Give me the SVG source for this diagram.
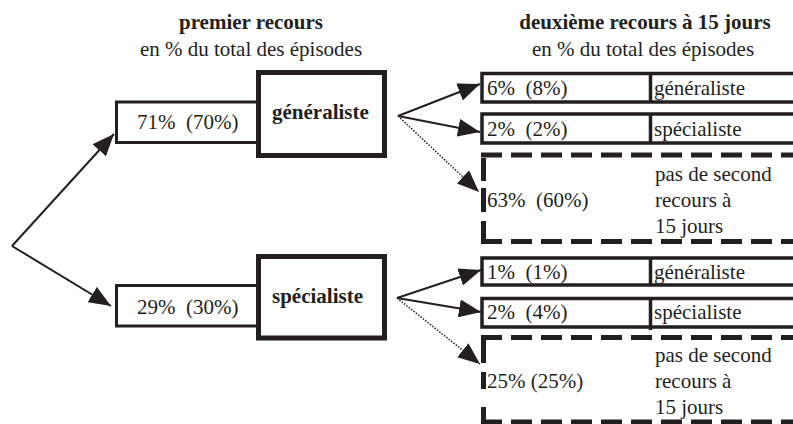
<svg xmlns="http://www.w3.org/2000/svg" width="793" height="424" viewBox="0 0 793 424" font-family="'Liberation Serif', 'Times New Roman', serif">
<style>
text{font-size:21px;fill:#231f20;white-space:pre}
.b{font-weight:bold}
.mid{text-anchor:middle}
.thick{fill:#fff;stroke:#231f20;stroke-width:5}
.thin{fill:#fff;stroke:#231f20;stroke-width:3}
.box{fill:#fff;stroke:#231f20;stroke-width:3.5}
.div{stroke:#231f20;stroke-width:3.5}
.dash{stroke:#231f20;stroke-width:5;fill:none;stroke-dasharray:21 9}
.vd{stroke:#231f20;stroke-width:5;fill:none}
.arr{stroke:#231f20;stroke-width:2;fill:none;marker-end:url(#ah)}
.dot{stroke:#231f20;stroke-width:1.5;fill:none;stroke-dasharray:1.5 1.5;marker-end:url(#ah)}
</style>
<defs>
<marker id="ah" markerUnits="userSpaceOnUse" markerWidth="22" markerHeight="18" refX="22" refY="9" orient="auto">
<path d="M0,0 L22,9 L0,18 z" fill="#231f20"/>
</marker>
</defs>
<rect width="793" height="424" fill="#fff"/>

<g id="headers">
<text class="b mid" x="251" y="29">premier recours</text>
<text class="mid" x="251" y="56">en % du total des épisodes</text>
<text class="b mid" x="645" y="29">deuxième recours à 15 jours</text>
<text class="mid" x="643" y="56">en % du total des épisodes</text>
</g>

<g id="connectors">
<path class="arr" d="M12,246 L114,134"/>
<path class="arr" d="M12,246 L111,306"/>
<path class="arr" d="M398,116 L480,84"/>
<path class="arr" d="M398,116 L480,132"/>
<path class="dot" d="M398,116 L479,192"/>
<path class="arr" d="M397,298 L481,270"/>
<path class="arr" d="M397,298 L481,312"/>
<path class="dot" d="M397,298 L480,364"/>
</g>

<g id="node-generaliste">
<rect class="thin" x="116.5" y="102" width="142" height="40.5"/>
<rect class="thick" x="258.5" y="72.5" width="126" height="83"/>
<text x="137" y="128.5">71%  (70%)</text>
<text class="b" x="272" y="119">généraliste</text>
</g>

<g id="node-specialiste">
<rect class="thin" x="116.5" y="285.5" width="142" height="40.5"/>
<rect class="thick" x="258.5" y="256.5" width="126" height="81.5"/>
<text x="137" y="314">29%  (30%)</text>
<text class="b" x="272" y="303">spécialiste</text>
</g>

<g id="node-g-g">
<rect class="box" x="482" y="73.5" width="330" height="28.5"/>
<line class="div" x1="650.5" y1="73.5" x2="650.5" y2="102"/>
<text x="487" y="95">6%  (8%)</text>
<text x="654" y="95">généraliste</text>
</g>

<g id="node-g-s">
<rect class="box" x="482" y="114" width="330" height="29"/>
<line class="div" x1="650.5" y1="114" x2="650.5" y2="143"/>
<text x="487" y="135.5">2%  (2%)</text>
<text x="654" y="135.5">spécialiste</text>
</g>

<g id="node-g-none">
<line class="dash" x1="481" y1="155" x2="800" y2="155"/>
<path class="vd" d="M483.5,158 V181 M483.5,188 V212 M483.5,221 V244"/>
<line class="dash" x1="481" y1="241.5" x2="800" y2="241.5"/>
<text x="487" y="207">63%  (60%)</text>
<text x="655" y="181">pas de second</text>
<text x="655" y="207">recours à</text>
<text x="655" y="233">15 jours</text>
</g>

<g id="node-s-g">
<rect class="box" x="482" y="258" width="330" height="27"/>
<line class="div" x1="650.5" y1="258" x2="650.5" y2="285"/>
<text x="487" y="278.5">1%  (1%)</text>
<text x="654" y="278.5">généraliste</text>
</g>

<g id="node-s-s">
<rect class="box" x="482" y="298.5" width="330" height="28.5"/>
<line class="div" x1="650.5" y1="298.5" x2="650.5" y2="330"/>
<text x="487" y="319">2%  (4%)</text>
<text x="654" y="319">spécialiste</text>
</g>

<g id="node-s-none">
<line class="dash" x1="481" y1="337.5" x2="800" y2="337.5"/>
<path class="vd" d="M483.5,340 V363 M483.5,372 V389 M483.5,407 V424"/>
<line class="dash" x1="481" y1="422" x2="800" y2="422"/>
<text x="487" y="388">25% (25%)</text>
<text x="655" y="362">pas de second</text>
<text x="655" y="388">recours à</text>
<text x="655" y="414">15 jours</text>
</g>
</svg>
